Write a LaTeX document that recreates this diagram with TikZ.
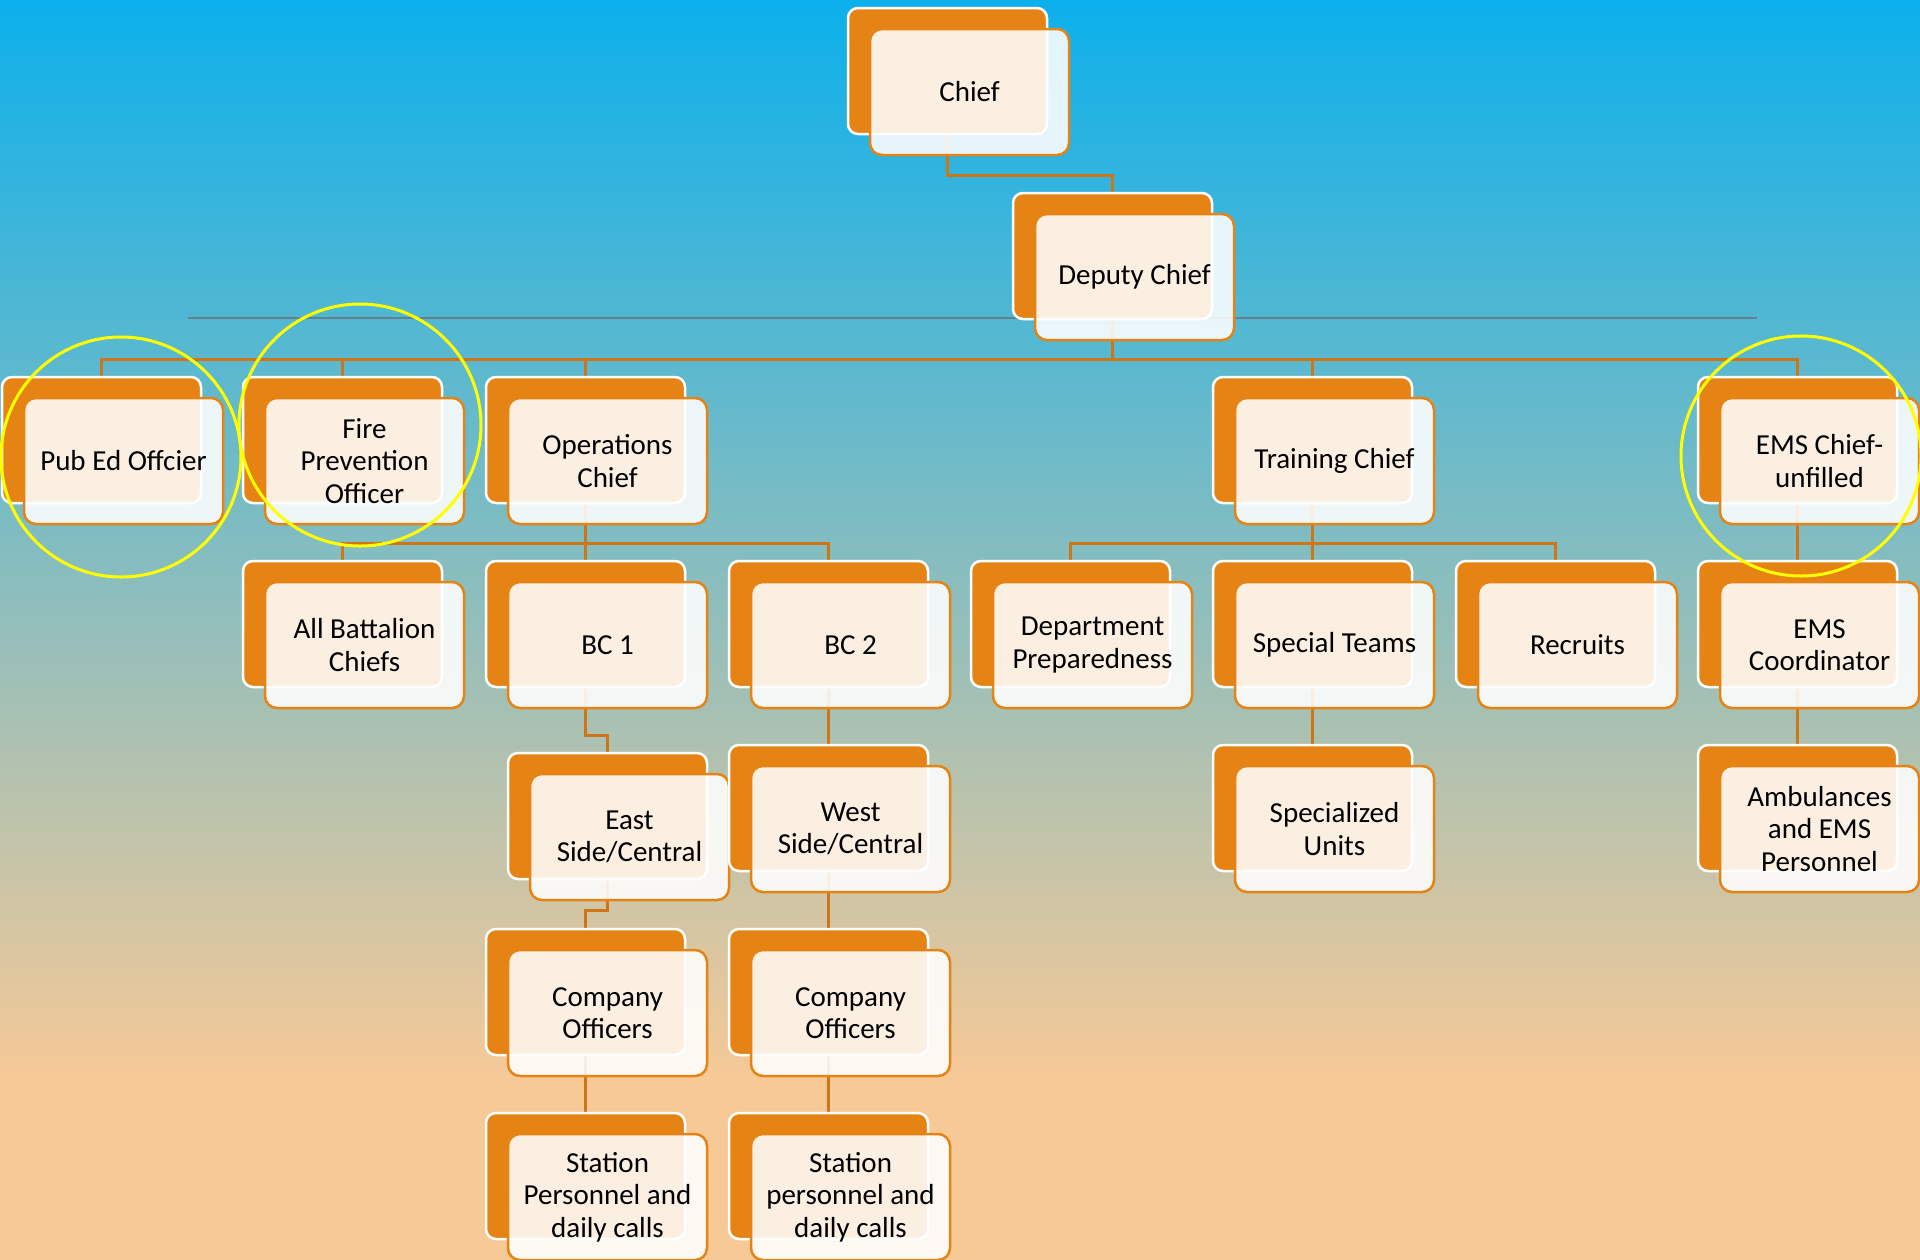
\documentclass[tikz,border=0pt]{standalone}
\usepackage{fontspec}
\setmainfont{Carlito}
\usetikzlibrary{calc}
\definecolor{sky}{RGB}{12,176,236}
\definecolor{peach}{RGB}{247,201,150}
\definecolor{boxorange}{RGB}{229,131,21}
\definecolor{connclr}{RGB}{204,118,24}
\definecolor{rulegray}{RGB}{100,128,140}
\definecolor{hiyellow}{RGB}{255,255,0}
\pgfdeclareverticalshading{bgshade}{100bp}{color(0bp)=(peach); color(32bp)=(peach); color(75bp)=(sky); color(100bp)=(sky)}
\pgfdeclarelayer{bglayer}
\pgfsetlayers{bglayer,main}
\tikzset{
  backbox/.style={draw=white, line width=2.5pt, fill=boxorange, rounded corners=10pt,
    minimum width=199pt, minimum height=126pt, inner sep=0pt, outer sep=0pt, anchor=north west},
  frontbox/.style={draw=boxorange, line width=2.5pt, fill=white, fill opacity=0.88, text opacity=1,
    rounded corners=12pt, minimum width=199pt, minimum height=126pt, inner sep=0pt, outer sep=0pt,
    anchor=north west, align=center, font=\fontsize{29}{32.5}\selectfont, text=black},
  conn/.style={draw=connclr, line width=3pt},
  hiring/.style={draw=hiyellow, line width=3pt},
  grayrule/.style={draw=rulegray, line width=1.5pt}
}
\newcommand\orgbox[4]{%
  \node[backbox] (#1B) at (#2,#3) {};
  \node[frontbox] (#1) at ($(#1B.north west)+(22,21)$) {#4};
}
\begin{document}
\begin{tikzpicture}[x=1pt,y=-1pt]
\useasboundingbox (0,0) rectangle (1920,1259);
% boxes
\orgbox{chief}{848}{8}{Chief}
\orgbox{deputy}{1013}{193}{Deputy Chief}
\orgbox{pubed}{2}{377}{Pub Ed Offcier}
\orgbox{firep}{243}{377}{Fire\\Prevention\\Officer}
\orgbox{ops}{486}{377}{Operations\\Chief}
\orgbox{training}{1213}{377}{Training Chief}
\orgbox{emschief}{1698}{377}{EMS Chief-\\unfilled}
\orgbox{allbc}{243}{561}{All Battalion\\Chiefs}
\orgbox{bcone}{486}{561}{BC 1}
\orgbox{bctwo}{729}{561}{BC 2}
\orgbox{dept}{971}{561}{Department\\Preparedness}
\orgbox{special}{1213}{561}{Special Teams}
\orgbox{recruits}{1456}{561}{Recruits}
\orgbox{emscoord}{1698}{561}{EMS\\Coordinator}
\orgbox{east}{508}{753}{East\\Side/Central}
\orgbox{west}{729}{745}{West\\Side/Central}
\orgbox{specialized}{1213}{745}{Specialized\\Units}
\orgbox{amb}{1698}{745}{Ambulances\\and EMS\\Personnel}
\orgbox{coone}{486}{929}{Company\\Officers}
\orgbox{cotwo}{729}{929}{Company\\Officers}
\orgbox{stone}{486}{1113}{Station\\Personnel and\\daily calls}
\orgbox{sttwo}{729}{1113}{Station\\personnel and\\daily calls}
% highlight circles
\draw[hiring] (121,457) circle (120pt);
\draw[hiring] (360,425) circle (121pt);
\draw[hiring] (1801,456) circle (120pt);
% background and connectors
\begin{pgfonlayer}{bglayer}
\shade[shading=bgshade] (0,0) rectangle (1920,1259);
\coordinate (rulea) at (188,318);
\coordinate (ruleb) at (1757,318);
\draw[grayrule] (rulea) -- (ruleb);
\coordinate (lvla) at (0,175);
\coordinate (busa) at (0,359);
\coordinate (busb) at (0,543);
\coordinate (lvle) at (0,735);
\coordinate (lvlf) at (0,910);
\draw[conn] (chiefB.south) -- (chiefB.south |- lvla) -| (deputyB.north);
\draw[conn] (deputyB.south) -- (deputyB.south |- busa);
\draw[conn] (pubedB.north) |- (emschiefB.north |- busa) -- (emschiefB.north);
\draw[conn] (firepB.north) -- (firepB.north |- busa);
\draw[conn] (opsB.north) -- (opsB.north |- busa);
\draw[conn] (trainingB.north) -- (trainingB.north |- busa);
\draw[conn] (opsB.south) -- (opsB.south |- busb);
\draw[conn] (allbcB.north) |- (bctwoB.north |- busb) -- (bctwoB.north);
\draw[conn] (bconeB.north) -- (bconeB.north |- busb);
\draw[conn] (trainingB.south) -- (trainingB.south |- busb);
\draw[conn] (deptB.north) |- (recruitsB.north |- busb) -- (recruitsB.north);
\draw[conn] (specialB.north) -- (specialB.north |- busb);
\draw[conn] (emschiefB.south) -- (emscoordB.north);
\draw[conn] (bconeB.south) -- (bconeB.south |- lvle) -| (eastB.north);
\draw[conn] (eastB.south) -- (eastB.south |- lvlf) -| (cooneB.north);
\draw[conn] (cooneB.south) -- (stoneB.north);
\draw[conn] (bctwoB.south) -- (westB.north);
\draw[conn] (westB.south) -- (cotwoB.north);
\draw[conn] (cotwoB.south) -- (sttwoB.north);
\draw[conn] (specialB.south) -- (specializedB.north);
\draw[conn] (emscoordB.south) -- (ambB.north);
\end{pgfonlayer}
\end{tikzpicture}
\end{document}
